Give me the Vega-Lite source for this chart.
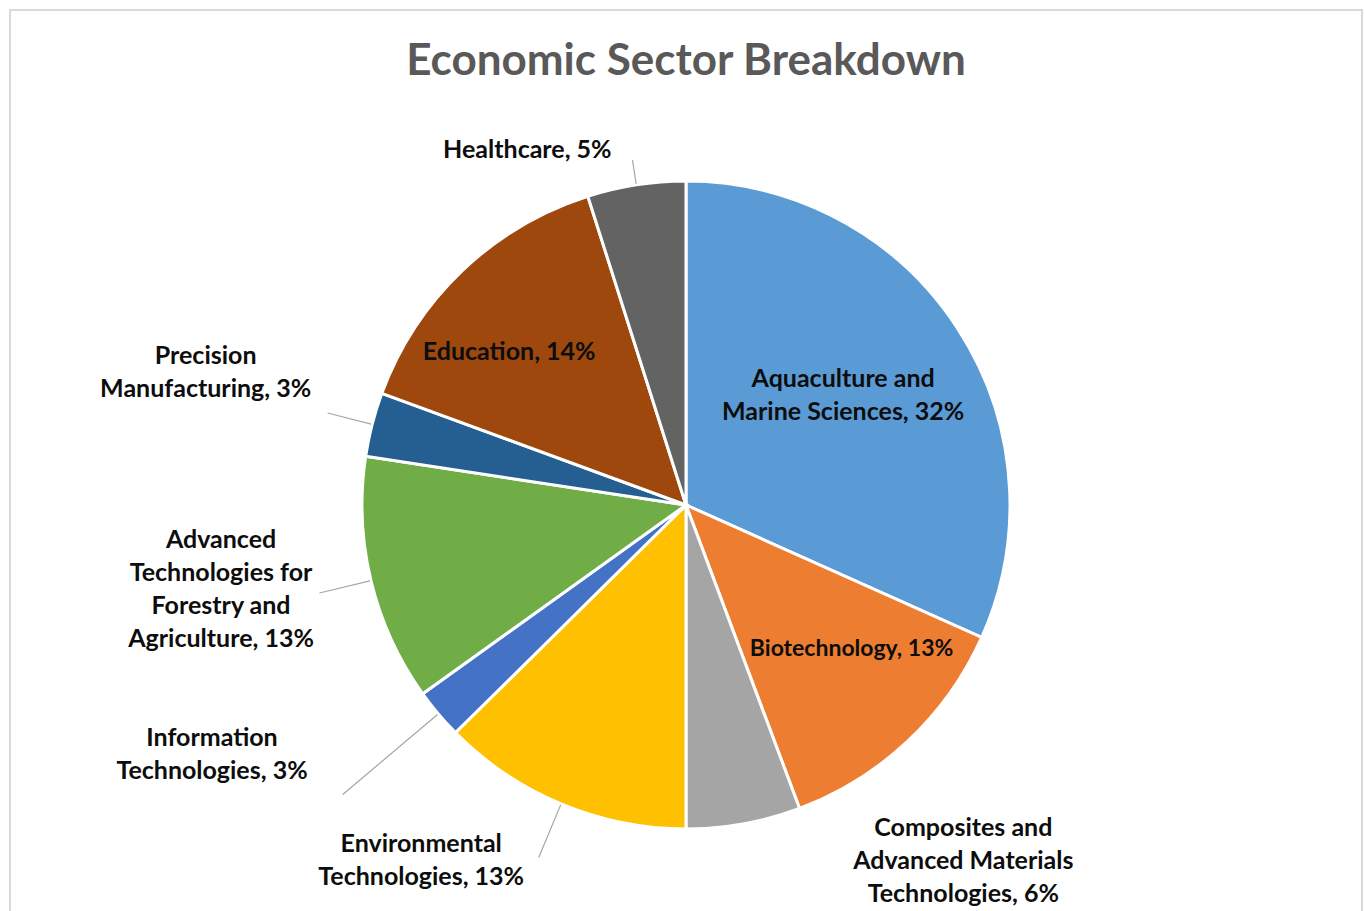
{
  "$schema": "https://vega.github.io/schema/vega-lite/v6.json",
  "autosize": {"type": "none"},
  "width": 1352,
  "height": 990,
  "padding": {"left": 10, "top": 10, "right": 2, "bottom": 0},
  "background": "#ffffff",
  "title": {
    "text": "Economic Sector Breakdown",
    "font": "Lato",
    "fontSize": 44,
    "fontWeight": "bold",
    "color": "#595959",
    "anchor": "middle",
    "frame": "group",
    "baseline": "alphabetic",
    "offset": -110
  },
  "config": {
    "view": {"stroke": null}
  },
  "data": {
    "values": [
      {"idx": 1, "sector": "Aquaculture and Marine Sciences", "value": 31.7, "label": "Aquaculture and\nMarine Sciences, 32%"},
      {"idx": 2, "sector": "Biotechnology", "value": 12.6, "label": "Biotechnology, 13%"},
      {"idx": 3, "sector": "Composites and Advanced Materials Technologies", "value": 5.7, "label": "Composites and\nAdvanced Materials\nTechnologies, 6%"},
      {"idx": 4, "sector": "Environmental Technologies", "value": 12.6, "label": "Environmental\nTechnologies, 13%"},
      {"idx": 5, "sector": "Information Technologies", "value": 2.5, "label": "Information\nTechnologies, 3%"},
      {"idx": 6, "sector": "Advanced Technologies for Forestry and Agriculture", "value": 12.3, "label": "Advanced\nTechnologies for\nForestry and\nAgriculture, 13%"},
      {"idx": 7, "sector": "Precision Manufacturing", "value": 3.2, "label": "Precision\nManufacturing, 3%"},
      {"idx": 8, "sector": "Education", "value": 14.5, "label": "Education, 14%"},
      {"idx": 9, "sector": "Healthcare", "value": 4.9, "label": "Healthcare, 5%"}
    ]
  },
  "layer": [
    {
      "data": {"values": [{"frame": "border"}]},
      "mark": {"type": "rect", "fill": null, "stroke": "#d9d9d9", "strokeWidth": 2},
      "encoding": {}
    },
    {
      "mark": {"type": "arc", "outerRadius": 324, "stroke": "#ffffff", "strokeWidth": 3},
      "encoding": {
        "theta": {"field": "value", "type": "quantitative", "stack": true},
        "order": {"field": "idx", "type": "quantitative"},
        "color": {
          "field": "sector",
          "type": "nominal",
          "legend": null,
          "sort": null,
          "scale": {
            "domain": ["Aquaculture and Marine Sciences", "Biotechnology", "Composites and Advanced Materials Technologies", "Environmental Technologies", "Information Technologies", "Advanced Technologies for Forestry and Agriculture", "Precision Manufacturing", "Education", "Healthcare"],
            "range": ["#5B9BD5", "#ED7D31", "#A5A5A5", "#FFC000", "#4472C4", "#70AD47", "#255E91", "#9E480E", "#636363"]
          }
        }
      }
    },
    {
      "mark": {
        "type": "arc",
        "innerRadius": 325,
        "outerRadius": {"expr": "datum.idx == 9 ? 349 : datum.idx == 7 ? 370 : datum.idx == 6 ? 377 : datum.idx == 5 ? 449 : datum.idx == 4 ? 382 : 325"},
        "padAngle": 3,
        "fill": null,
        "stroke": "#a6a6a6",
        "strokeWidth": 1.2,
        "strokeOpacity": {"expr": "(datum.idx == 9 || datum.idx == 7 || datum.idx == 6 || datum.idx == 5 || datum.idx == 4) ? 1 : 0"}
      },
      "encoding": {
        "theta": {"field": "value", "type": "quantitative", "stack": true},
        "order": {"field": "idx", "type": "quantitative"}
      }
    },
    {
      "mark": {"type": "text", "radius": {"expr": "datum.idx == 1 ? 192 : 0"}, "dx": -4, "dy": -22, "font": "Lato", "fontSize": 25, "fontWeight": "bold", "align": "center", "baseline": "middle", "lineHeight": 33, "lineBreak": "\n", "fill": "#0d0d0d"},
      "encoding": {
        "theta": {"field": "value", "type": "quantitative", "stack": true},
        "order": {"field": "idx", "type": "quantitative"},
        "text": {"condition": {"test": "datum.idx == 1", "field": "label"}, "value": ""}
      }
    },
    {
      "mark": {"type": "text", "radius": {"expr": "datum.idx == 2 ? 220 : 0"}, "dx": 15, "dy": -16, "font": "Lato", "fontSize": 23, "fontWeight": "bold", "align": "center", "baseline": "middle", "lineHeight": 33, "lineBreak": "\n", "fill": "#0d0d0d"},
      "encoding": {
        "theta": {"field": "value", "type": "quantitative", "stack": true},
        "order": {"field": "idx", "type": "quantitative"},
        "text": {"condition": {"test": "datum.idx == 2", "field": "label"}, "value": ""}
      }
    },
    {
      "mark": {"type": "text", "radius": {"expr": "datum.idx == 3 ? 451 : 0"}, "dx": 197, "dy": -121, "font": "Lato", "fontSize": 25, "fontWeight": "bold", "align": "center", "baseline": "middle", "lineHeight": 33, "lineBreak": "\n", "fill": "#0d0d0d"},
      "encoding": {
        "theta": {"field": "value", "type": "quantitative", "stack": true},
        "order": {"field": "idx", "type": "quantitative"},
        "text": {"condition": {"test": "datum.idx == 3", "field": "label"}, "value": ""}
      }
    },
    {
      "mark": {"type": "text", "radius": {"expr": "datum.idx == 4 ? 443 : 0"}, "dx": -94, "dy": -70, "font": "Lato", "fontSize": 25, "fontWeight": "bold", "align": "center", "baseline": "middle", "lineHeight": 33, "lineBreak": "\n", "fill": "#0d0d0d"},
      "encoding": {
        "theta": {"field": "value", "type": "quantitative", "stack": true},
        "order": {"field": "idx", "type": "quantitative"},
        "text": {"condition": {"test": "datum.idx == 4", "field": "label"}, "value": ""}
      }
    },
    {
      "mark": {"type": "text", "radius": {"expr": "datum.idx == 5 ? 535 : 0"}, "dx": -65, "dy": -112, "font": "Lato", "fontSize": 25, "fontWeight": "bold", "align": "center", "baseline": "middle", "lineHeight": 33, "lineBreak": "\n", "fill": "#0d0d0d"},
      "encoding": {
        "theta": {"field": "value", "type": "quantitative", "stack": true},
        "order": {"field": "idx", "type": "quantitative"},
        "text": {"condition": {"test": "datum.idx == 5", "field": "label"}, "value": ""}
      }
    },
    {
      "mark": {"type": "text", "radius": {"expr": "datum.idx == 6 ? 472 : 0"}, "dx": -6, "dy": -75, "font": "Lato", "fontSize": 25, "fontWeight": "bold", "align": "center", "baseline": "middle", "lineHeight": 33, "lineBreak": "\n", "fill": "#0d0d0d"},
      "encoding": {
        "theta": {"field": "value", "type": "quantitative", "stack": true},
        "order": {"field": "idx", "type": "quantitative"},
        "text": {"condition": {"test": "datum.idx == 6", "field": "label"}, "value": ""}
      }
    },
    {
      "mark": {"type": "text", "radius": {"expr": "datum.idx == 7 ? 498 : 0"}, "dx": 2, "dy": -25, "font": "Lato", "fontSize": 25, "fontWeight": "bold", "align": "center", "baseline": "middle", "lineHeight": 33, "lineBreak": "\n", "fill": "#0d0d0d"},
      "encoding": {
        "theta": {"field": "value", "type": "quantitative", "stack": true},
        "order": {"field": "idx", "type": "quantitative"},
        "text": {"condition": {"test": "datum.idx == 7", "field": "label"}, "value": ""}
      }
    },
    {
      "mark": {"type": "text", "radius": {"expr": "datum.idx == 8 ? 234 : 0"}, "dx": -15, "dy": 16, "font": "Lato", "fontSize": 25, "fontWeight": "bold", "align": "center", "baseline": "middle", "lineHeight": 33, "lineBreak": "\n", "fill": "#0d0d0d"},
      "encoding": {
        "theta": {"field": "value", "type": "quantitative", "stack": true},
        "order": {"field": "idx", "type": "quantitative"},
        "text": {"condition": {"test": "datum.idx == 8", "field": "label"}, "value": ""}
      }
    },
    {
      "mark": {"type": "text", "radius": {"expr": "datum.idx == 9 ? 389 : 0"}, "dx": -99, "dy": 29, "font": "Lato", "fontSize": 25, "fontWeight": "bold", "align": "center", "baseline": "middle", "lineHeight": 33, "lineBreak": "\n", "fill": "#0d0d0d"},
      "encoding": {
        "theta": {"field": "value", "type": "quantitative", "stack": true},
        "order": {"field": "idx", "type": "quantitative"},
        "text": {"condition": {"test": "datum.idx == 9", "field": "label"}, "value": ""}
      }
    }
  ]
}
